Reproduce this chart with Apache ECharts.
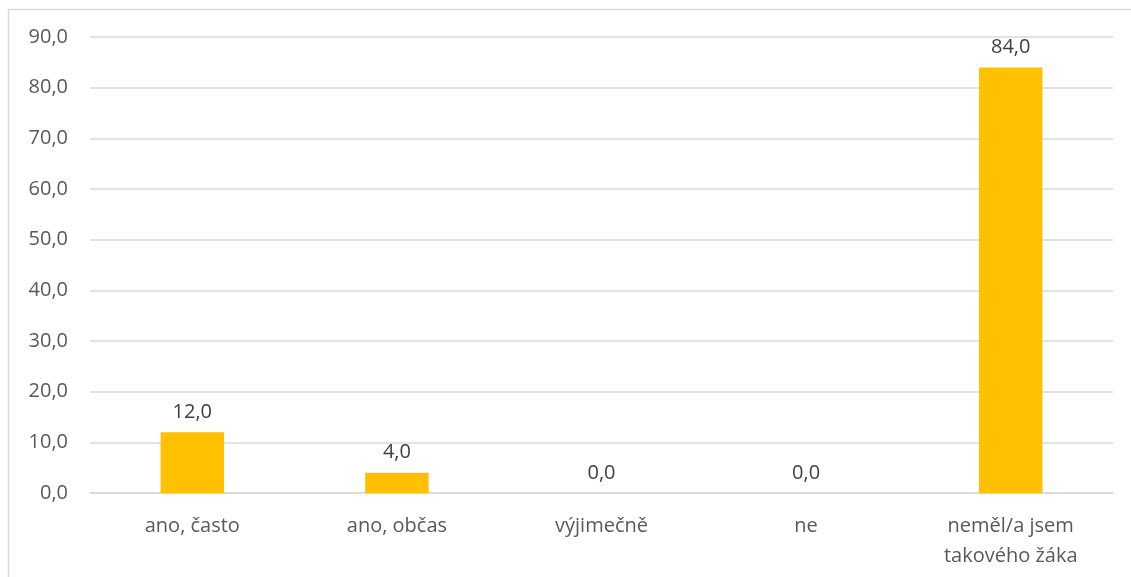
<!DOCTYPE html>
<html>
<head>
    <meta charset="UTF-8">
    <title>Graf</title>
    <script src="https://cdn.jsdelivr.net/npm/echarts@6.0.0/dist/echarts.min.js"></script>
    <style>
        body { margin: 0; padding: 0; background: #fff; }
        #chart { width: 1131px; height: 577px; }
    </style>
</head>
<body>
<div id="chart"></div>
<script>
// data
const categories = ['ano, často', 'ano, občas', 'výjimečně', 'ne', 'neměl/a jsem\ntakového žáka'];
const values = [12.0, 4.0, 0.0, 0.0, 84.0];

const textColor = '#595959';
const gridColor = '#d9d9d9';
const fmt = v => Number(v).toFixed(1).replace('.', ',');

const chart = echarts.init(document.getElementById('chart'));
chart.setOption({
    animation: false,
    textStyle: { fontFamily: '"Open Sans", "Noto Sans", sans-serif' },
    graphic: [{
        type: 'rect',
        shape: { x: 8.5, y: 9.5, width: 1140, height: 600 },
        style: { fill: 'none', stroke: gridColor, lineWidth: 1.5 },
        silent: true
    }],
    grid: { left: 90, right: 18, top: 37, bottom: 84 },
    xAxis: {
        type: 'category',
        data: categories,
        axisLine: { show: true, lineStyle: { color: gridColor, width: 1.5 } },
        axisTick: { show: false },
        axisLabel: { color: textColor, fontSize: 20, margin: 18, lineHeight: 30, interval: 0 }
    },
    yAxis: {
        type: 'value',
        min: 0,
        max: 90,
        interval: 10,
        axisLine: { show: false },
        axisTick: { show: false },
        splitLine: { lineStyle: { color: gridColor, width: 1.5 } },
        axisLabel: { color: textColor, fontSize: 20, margin: 22, formatter: fmt }
    },
    series: [{
        type: 'bar',
        data: values,
        barWidth: '31%',
        itemStyle: { color: '#FFC000' },
        label: {
            show: true,
            position: 'top',
            distance: 10,
            color: '#404040',
            fontSize: 20,
            formatter: p => fmt(p.value)
        }
    }]
});
</script>
</body>
</html>
